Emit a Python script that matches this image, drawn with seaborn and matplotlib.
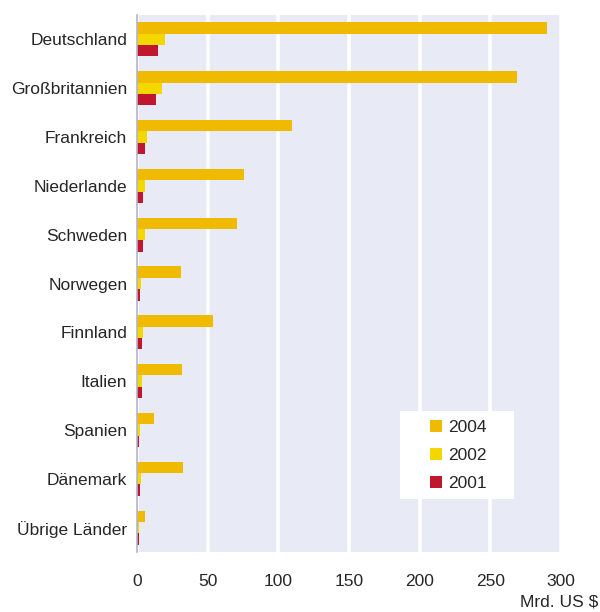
import pandas as pd
import numpy as np
import matplotlib
matplotlib.use("Agg")
import matplotlib.pyplot as plt
import seaborn as sns
from matplotlib.patches import Patch, Rectangle

# values (Mrd. US $)
countries = ["Deutschland", "Großbritannien", "Frankreich", "Niederlande", "Schweden",
             "Norwegen", "Finnland", "Italien", "Spanien", "Dänemark", "Übrige Länder"]
v2004 = [290, 269, 110, 75.5, 70.5, 31, 54, 31.5, 12.3, 32.5, 6]
v2002 = [20, 18, 7.3, 5.4, 5.4, 2.6, 4.5, 3.8, 1.9, 2.8, 1.2]
v2001 = [14.6, 13.7, 5.9, 4.2, 4.2, 1.9, 3.8, 3.6, 1.4, 2.1, 1.6]
years = ["2004", "2002", "2001"]
colors = ["#EFBA00", "#F5D700", "#C0172E"]

df = pd.DataFrame({
    "land": countries * 3,
    "jahr": [y for y in years for _ in countries],
    "wert": v2004 + v2002 + v2001,
})

sns.set_style("white")
plt.rcParams["font.family"] = ["Liberation Sans", "DejaVu Sans"]
fs = 12.5

fig = plt.figure(figsize=(6, 6.12), dpi=100)
ax = fig.add_axes([0.2283, 0.098, 0.7067, 0.8775])
ax.set_facecolor("#E8EAF6")

sns.barplot(data=df, y="land", x="wert", hue="jahr", hue_order=years,
            palette=colors, orient="h", width=0.7, saturation=1,
            edgecolor="none", ax=ax, legend=False)

ax.set_xlim(0, 300)
ax.set_ylim(len(countries) - 0.5, -0.5)
ax.set_xticks(range(0, 301, 50))
ax.grid(axis="x", color="white", linewidth=2.6)
ax.set_axisbelow(True)
for s in ["top", "right", "bottom"]:
    ax.spines[s].set_visible(False)
ax.spines["left"].set_color("#B4B4CC")
ax.spines["left"].set_linewidth(1.2)

ax.set_yticks(np.arange(-0.5, len(countries)), minor=True)
ax.tick_params(axis="y", which="major", length=0, pad=7, labelsize=fs)
ax.tick_params(axis="y", which="minor", length=4, color="#B4B4CC", width=1.2)
ax.tick_params(axis="x", which="major", length=0, pad=16, labelsize=fs)
ax.set_xlabel("")
ax.set_ylabel("")

fig.text(0.997, 0.004, "Mrd. US $", ha="right", va="bottom", fontsize=fs)

# white legend box
ax.add_patch(Rectangle((0.620, 0.0987), 0.269, 0.164, transform=ax.transAxes,
                       facecolor="white", edgecolor="none", zorder=5))
handles = [Patch(facecolor=c, edgecolor="none", label=y) for c, y in zip(colors, years)]
leg = ax.legend(handles=handles, loc="upper left", bbox_to_anchor=(0.690, 0.246),
                frameon=False, borderpad=0, handlelength=0.7, handleheight=0.7,
                handletextpad=0.35, labelspacing=0.75, borderaxespad=0, fontsize=fs)
leg.set_zorder(6)

fig.savefig("out.png", dpi=100)
